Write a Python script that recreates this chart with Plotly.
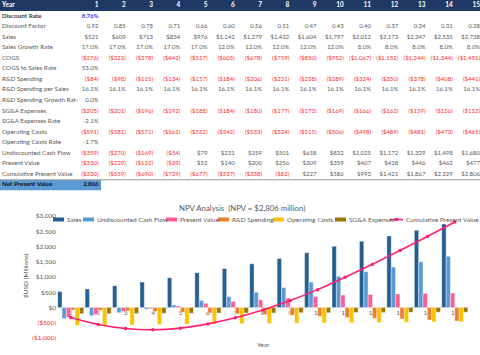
import plotly.graph_objects as go

# ---------------- data ----------------
years = [1, 2, 3, 4, 5, 6, 7, 8, 9, 10, 11, 12, 13, 14, 15]
discount_rate = 8.76
discount_factor = [0.92, 0.85, 0.78, 0.71, 0.66, 0.60, 0.56, 0.51, 0.47, 0.43, 0.40, 0.37, 0.34, 0.31, 0.28]
sales = [521, 609, 713, 834, 976, 1142, 1279, 1432, 1604, 1797, 2012, 2173, 2347, 2535, 2738]
sales_growth = [17.0, 17.0, 17.0, 17.0, 17.0, 12.0, 12.0, 12.0, 12.0, 12.0, 8.0, 8.0, 8.0, 8.0, 8.0]
cogs = [-276, -323, -378, -442, -517, -605, -678, -759, -850, -952, -1067, -1152, -1244, -1344, -1451]
cogs_rate = 53.0
rnd = [-84, -98, -115, -134, -157, -184, -206, -231, -258, -289, -324, -350, -378, -408, -441]
rnd_per_sales = [16.1, 16.1, 16.1, 16.1, 16.1, 16.1, 16.1, 16.1, 16.1, 16.1, 16.1, 16.1, 16.1, 16.1, 16.1]
rnd_growth = 0.0
sga = [-205, -201, -196, -192, -188, -184, -180, -177, -173, -169, -166, -162, -159, -156, -152]
sga_rate = -2.1
op_costs = [-591, -581, -571, -561, -552, -542, -533, -524, -515, -506, -498, -489, -481, -473, -465]
op_rate = -1.7
ucf = [-359, -270, -169, -54, 79, 231, 359, 501, 658, 832, 1025, 1172, 1329, 1498, 1680]
pv = [-330, -229, -132, -39, 52, 140, 200, 256, 309, 359, 407, 428, 446, 462, 477]
cum_pv = [-330, -559, -690, -729, -677, -537, -338, -82, 227, 586, 993, 1421, 1867, 2329, 2806]
npv = 2806

y_ticks = [-1000, -500, 0, 500, 1000, 1500, 2000, 2500, 3000]

# ---------------- styling ----------------
W, H = 480, 355
FONT = "Lato"
GRAY = "#595959"
RED = "#ff2a2a"
NAVY = "#1f3864"
C_SALES = "#255e91"
C_UCF = "#5b9bd5"
C_PV = "#ff5c93"
C_RND = "#ed7d31"
C_OP = "#ffc000"
C_SGA = "#9c7700"
C_CUM = "#ff1f75"


def px_x(p):
    return p / W


def px_y(p):
    return 1 - p / H


def money(v):
    return f"${v:,}" if v >= 0 else f"(${-v:,})"


def pct(v):
    return f"{v:.1f}%"


def col(v):
    return RED if v < 0 else GRAY


fig = go.Figure()

# ---------------- table (text on its own axes) ----------------
rows = [
    ("<b>Discount Rate</b>", [f"<b>{discount_rate:.2f}%</b>"], ["#3535ff"], "#3a3a3a"),
    ("Discount Factor", [f"{v:.2f}" for v in discount_factor], [GRAY] * 15, GRAY),
    ("Sales", [money(v) for v in sales], [col(v) for v in sales], GRAY),
    ("Sales Growth Rate", [pct(v) for v in sales_growth], [GRAY] * 15, GRAY),
    ("COGS", [money(v) for v in cogs], [col(v) for v in cogs], GRAY),
    ("COGS to Sales Rate", [pct(cogs_rate)], [GRAY], GRAY),
    ("R&D Spending", [money(v) for v in rnd], [col(v) for v in rnd], GRAY),
    ("R&D Spending per Sales", [pct(v) for v in rnd_per_sales], [GRAY] * 15, GRAY),
    ("R&D Spending Growth Rat-", [pct(rnd_growth)], [GRAY], GRAY),
    ("SG&A Expenses", [money(v) for v in sga], [col(v) for v in sga], GRAY),
    ("SG&A Expenses Rate", [pct(sga_rate)], [GRAY], GRAY),
    ("Operating Costs", [money(v) for v in op_costs], [col(v) for v in op_costs], GRAY),
    ("Operating Costs Rate", [pct(op_rate)], [GRAY], GRAY),
    ("Undiscounted Cash Flow", [money(v) for v in ucf], [col(v) for v in ucf], GRAY),
    ("Present Value", [money(v) for v in pv], [col(v) for v in pv], GRAY),
    ("Cumulative Present Value", [money(v) for v in cum_pv], [col(v) for v in cum_pv], GRAY),
    ("<b>Net Present Value</b>", [f"<b>{npv:,}</b>"], ["#111111"], "#111111"),
]

# axis calibration: column k right edge ; row r centre
COL_W = 27.25
COL1_RIGHT = 98.5
ROW_H = 10.55
ROW0 = 5.5
x2_range = [1 + (0 - COL1_RIGHT) / COL_W, 1 + (W - COL1_RIGHT) / COL_W]
TBL_BOTTOM_PX = 195.25
y2_range = [(TBL_BOTTOM_PX - ROW0) / ROW_H, (0 - ROW0) / ROW_H]
LABEL_X = 1 + (2 - COL1_RIGHT) / COL_W

# header
fig.add_trace(go.Scatter(
    x=[LABEL_X], y=[0], text=["<b>Year</b>"], mode="text", textposition="middle right",
    textfont=dict(family=FONT, size=6.5, color="white"),
    xaxis="x2", yaxis="y2", hoverinfo="skip", showlegend=False))
fig.add_trace(go.Scatter(
    x=years, y=[0] * len(years), text=[f"<b>{y}</b>" for y in years], mode="text",
    textposition="middle left", textfont=dict(family=FONT, size=6.5, color="white"),
    xaxis="x2", yaxis="y2", hoverinfo="skip", showlegend=False))

lab_y, lab_t, lab_c = [], [], []
val_x, val_y, val_t, val_c = [], [], [], []
for r, (label, texts, colors, lcol) in enumerate(rows, start=1):
    lab_y.append(r)
    lab_t.append(label)
    lab_c.append(lcol)
    for k, (t, c) in enumerate(zip(texts, colors)):
        val_x.append(years[k])
        val_y.append(r)
        val_t.append(t)
        val_c.append(c)

fig.add_trace(go.Scatter(
    x=[LABEL_X] * len(lab_y), y=lab_y, text=lab_t, mode="text", textposition="middle right",
    textfont=dict(family=FONT, size=6.3, color=lab_c),
    xaxis="x2", yaxis="y2", hoverinfo="skip", showlegend=False))
fig.add_trace(go.Scatter(
    x=val_x, y=val_y, text=val_t, mode="text", textposition="middle left",
    textfont=dict(family=FONT, size=6.0, color=val_c),
    xaxis="x2", yaxis="y2", hoverinfo="skip", showlegend=False))

# ---------------- chart ----------------
bar_series = [
    ("Sales", sales, C_SALES),
    ("Undiscounted Cash Flow", ucf, C_UCF),
    ("Present Value", pv, C_PV),
    ("R&D Spending", rnd, C_RND),
    ("Operating Costs", op_costs, C_OP),
    ("SG&A Expenses", sga, C_SGA),
]
for name, vals, c in bar_series:
    fig.add_trace(go.Bar(
        x=years, y=vals, name=name, marker=dict(color=c, line=dict(color="white", width=0.4)),
        showlegend=False))

fig.add_trace(go.Scatter(
    x=years, y=cum_pv, name="Cumulative Present Value", mode="lines+markers",
    line=dict(color=C_CUM, width=1.6, shape="spline", smoothing=0.6),
    marker=dict(color=C_CUM, size=3.5), showlegend=False))

Y_TOP_PX, Y_BOT_PX = 216.0, 338.0
X_L_PX, X_R_PX = 57.0, 468.5
ydom = [px_y(Y_BOT_PX), px_y(Y_TOP_PX)]
ymin, ymax = -1000, 3000
zero_pos = ydom[0] + (0 - ymin) / (ymax - ymin) * (ydom[1] - ydom[0])

tick_text = []
for v in y_ticks:
    if v < 0:
        tick_text.append(f'<span style="color:{RED}">(${-v:,})</span>')
    else:
        tick_text.append(f"${v:,}")

# shapes: header band, NPV band, separator
shapes = [
    dict(type="rect", xref="paper", yref="y2", x0=0, x1=1, y0=y2_range[1], y1=0.52,
         fillcolor=NAVY, line=dict(width=0), layer="below"),
    dict(type="rect", xref="paper", yref="y2", x0=0, x1=px_x(101), y0=16.55, y1=17.5,
         fillcolor="#5b9bd5", line=dict(width=0), layer="below"),
    dict(type="line", xref="paper", yref="y2", x0=0, x1=1, y0=16.52, y1=16.52,
         line=dict(color="#9a9a9a", width=1)),
]

# legend (drawn manually to match Excel layout)
LEG_Y = 219.5
legend_items = [
    ("Sales", C_SALES, 53, 64, "bar"),
    ("Undiscounted Cash Flow", C_UCF, 83, 94, "bar"),
    ("Present Value", C_PV, 166, 177, "bar"),
    ("R&D Spending", C_RND, 218, 229, "bar"),
    ("Operating Costs", C_OP, 273, 284, "bar"),
    ("SG&A Expenses", C_SGA, 335, 346, "bar"),
    ("Cumulative Present Value", C_CUM, 390, 403, "line"),
]
annotations = []
for name, c, x0, x1, kind in legend_items:
    if kind == "bar":
        shapes.append(dict(type="rect", xref="paper", yref="paper",
                           x0=px_x(x0), x1=px_x(x1), y0=px_y(LEG_Y + 2), y1=px_y(LEG_Y - 2),
                           fillcolor=c, line=dict(width=0)))
    else:
        shapes.append(dict(type="line", xref="paper", yref="paper",
                           x0=px_x(x0), x1=px_x(x1), y0=px_y(LEG_Y), y1=px_y(LEG_Y),
                           line=dict(color=c, width=1.6)))
        m = (x0 + x1) / 2
        shapes.append(dict(type="rect", xref="paper", yref="paper",
                           x0=px_x(m - 1.6), x1=px_x(m + 1.6), y0=px_y(LEG_Y + 1.6),
                           y1=px_y(LEG_Y - 1.6), fillcolor=c, line=dict(width=0)))
    annotations.append(dict(text=name, xref="paper", yref="paper", x=px_x(x1 + 1), y=px_y(LEG_Y),
                            xanchor="left", yanchor="middle", showarrow=False,
                            font=dict(family=FONT, size=6.5, color=GRAY)))

annotations.append(dict(text="NPV Analysis  (NPV = $2,806 million)", xref="paper", yref="paper",
                        x=px_x(242), y=px_y(207.5), xanchor="center", yanchor="middle",
                        showarrow=False, font=dict(family=FONT, size=7.8, color=GRAY)))
annotations.append(dict(text="$USD (Millions)", xref="paper", yref="paper", textangle=-90,
                        x=px_x(25), y=px_y(276), xanchor="center", yanchor="middle",
                        showarrow=False, font=dict(family=FONT, size=6.5, color=GRAY)))
annotations.append(dict(text="Year", xref="paper", yref="paper",
                        x=px_x(263), y=px_y(344), xanchor="center", yanchor="middle",
                        showarrow=False, font=dict(family=FONT, size=6.5, color=GRAY)))

fig.update_layout(
    width=W, height=H,
    margin=dict(l=0, r=0, t=0, b=0),
    paper_bgcolor="white", plot_bgcolor="white",
    barmode="group", bargap=0.05, bargroupgap=0,
    font=dict(family=FONT, color=GRAY, size=6.5),
    showlegend=False,
    xaxis=dict(domain=[px_x(X_L_PX), px_x(X_R_PX)], range=[0.5, 15.5], tickmode="array",
               tickvals=years, ticktext=[str(y) for y in years], anchor="free",
               position=zero_pos, showline=False, showgrid=False, zeroline=False, ticks="",
               tickfont=dict(family=FONT, size=6.5, color=GRAY), layer="below traces",
               fixedrange=True, automargin=False),
    yaxis=dict(domain=ydom, range=[ymin, ymax], tickmode="array", tickvals=y_ticks,
               ticktext=tick_text, showgrid=False, zeroline=True, zerolinecolor="#d9d9d9",
               zerolinewidth=1, showline=False, ticks="",
               tickfont=dict(family=FONT, size=6.5, color=GRAY), fixedrange=True,
               automargin=False),
    xaxis2=dict(domain=[0, 1], range=x2_range, visible=False, anchor="y2", fixedrange=True,
                automargin=False),
    yaxis2=dict(domain=[px_y(TBL_BOTTOM_PX), 1], range=y2_range, visible=False, anchor="x2",
                fixedrange=True, automargin=False),
    shapes=shapes,
    annotations=annotations,
)

fig.write_html(
    "out.html",
    config={"displayModeBar": False},
    post_script="document.body.style.margin='0';document.body.style.overflow='hidden';",
)
